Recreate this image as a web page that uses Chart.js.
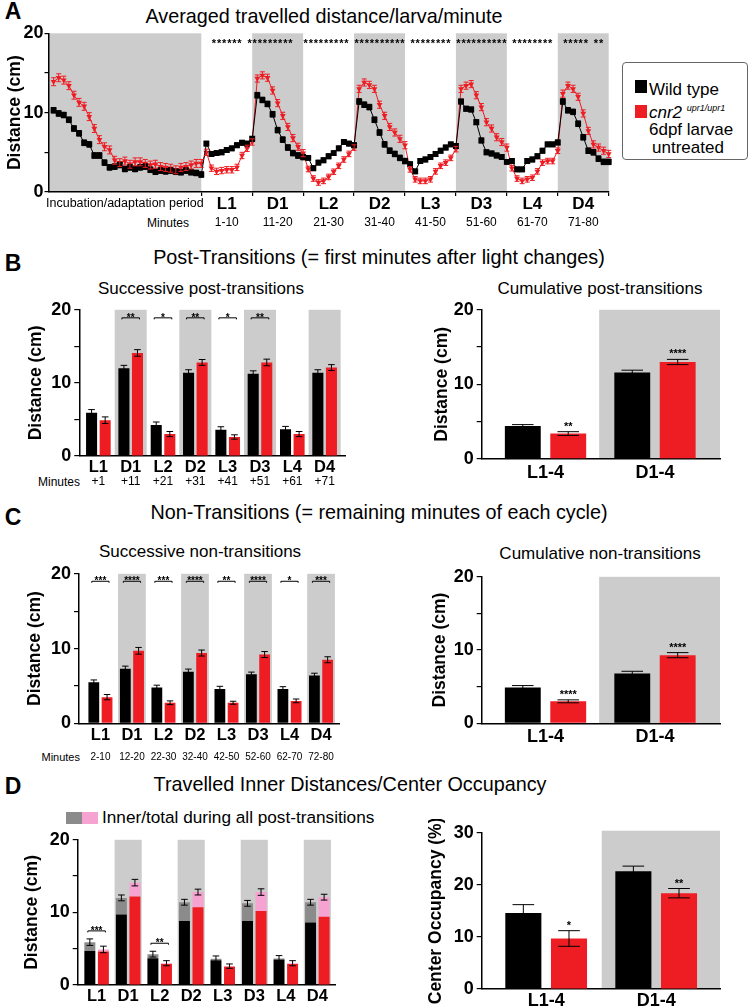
<!DOCTYPE html>
<html lang="en">
<head>
    <meta charset="UTF-8">
    <title>cnr2 larvae locomotion</title>
    <style>
        body {
            margin: 0;
            background: #fff;
            font-family: "Liberation Sans", Arial, Helvetica, sans-serif;
            color: #000;
        }
        #page {
            position: relative;
            width: 750px;
            height: 1006px;
            overflow: hidden;
        }
        .t {
            position: absolute;
            white-space: nowrap;
            transform: translate(-50%, -50%);
            line-height: 1;
        }
        .r { transform: translate(-100%, -50%); }
        .l { transform: translate(0, -50%); }
        .letter { font-weight: bold; font-size: 23px; }
        .title { font-size: 19.8px; }
        .sub { font-size: 17px; }
        canvas { position: absolute; }
        .sq { position: absolute; }
    </style>
</head>
<body>
<div id="page">
    <!-- panel letters and titles -->
    <div class="t letter" style="left:13px;top:11px">A</div>
    <div class="t title" style="left:324px;top:17px">Averaged travelled distance/larva/minute</div>
    <div class="t letter" style="left:13px;top:263px">B</div>
    <div class="t title" style="left:379px;top:258px">Post-Transitions (= first minutes after light changes)</div>
    <div class="t sub" style="left:201px;top:288px">Successive post-transitions</div>
    <div class="t sub" style="left:600px;top:288px">Cumulative post-transitions</div>
    <div class="t letter" style="left:13px;top:517px">C</div>
    <div class="t title" style="left:379px;top:513px">Non-Transitions (= remaining minutes of each cycle)</div>
    <div class="t sub" style="left:200px;top:551px">Successive non-transitions</div>
    <div class="t sub" style="left:600px;top:553px">Cumulative non-transitions</div>
    <div class="t letter" style="left:13px;top:786px">D</div>
    <div class="t title" style="left:350px;top:785px">Travelled Inner Distances/Center Occupancy</div>

    <!-- "Minutes" row captions -->
    <div class="t r" style="left:189px;top:223px;font-size:12px">Minutes</div>
    <div class="t r" style="left:80px;top:482px;font-size:12px">Minutes</div>
    <div class="t r" style="left:80px;top:757px;font-size:11px">Minutes</div>

    <!-- legend of panel A -->
    <div style="position:absolute;left:622px;top:62px;width:126px;height:98px;border:1px solid #666;border-radius:4px;box-sizing:border-box"></div>
    <div class="sq" style="left:635px;top:80px;width:12px;height:13px;background:#000"></div>
    <div class="t l" style="left:649px;top:89px;font-size:17px">Wild type</div>
    <div class="sq" style="left:635px;top:105px;width:12px;height:13px;background:#ee1d23"></div>
    <div class="t l" style="left:649px;top:112px;font-size:17px"><i>cnr2</i> <i style="font-size:9px;position:relative;top:-7px">upr1/upr1</i></div>
    <div class="t l" style="left:649px;top:129px;font-size:17px">6dpf larvae</div>
    <div class="t l" style="left:652px;top:147px;font-size:17px">untreated</div>

    <!-- legend of panel D -->
    <div class="sq" style="left:66px;top:812px;width:16px;height:12px;background:#8b8b8b"></div>
    <div class="sq" style="left:82px;top:812px;width:16px;height:12px;background:#f6a3d2"></div>
    <div class="t l" style="left:102px;top:818px;font-size:17.2px">Inner/total during all post-transitions</div>

    <canvas id="chartA" width="615" height="215" style="left:0;top:20px"></canvas>
    <canvas id="chartB1" width="350" height="200" style="left:0;top:296px"></canvas>
    <canvas id="chartB2" width="370" height="200" style="left:360px;top:296px"></canvas>
    <canvas id="chartC1" width="350" height="200" style="left:0;top:560px"></canvas>
    <canvas id="chartC2" width="370" height="200" style="left:360px;top:563px"></canvas>
    <canvas id="chartD1" width="350" height="180" style="left:0;top:826px"></canvas>
    <canvas id="chartD2" width="370" height="187" style="left:360px;top:819px"></canvas>
</div>

<script src="https://cdn.jsdelivr.net/npm/chart.js@4"></script>
<script>
    // ---------- Panel A: distance per minute ----------
    // x = minute; -29..0 is the incubation/adaptation period, 1..80 are L1..D4
    const minutesA = Array.from({length: 110}, (_, i) => i - 29);
    const segNames = ['L1', 'D1', 'L2', 'D2', 'L3', 'D3', 'L4', 'D4'];
    const segMinutes = ['1-10', '11-20', '21-30', '31-40', '41-50', '51-60', '61-70', '71-80'];

    const wtMinute = [
        10.3, 9.9, 9.7, 9.1, 8.0, 7.4, 6.2, 6.0, 4.6, 4.6,
        3.7, 3.1, 3.2, 3.4, 2.9, 3.1, 2.9, 3.1, 3.2, 2.8,
        2.55, 2.7, 2.6, 2.7, 2.55, 2.5, 2.7, 2.5, 2.4, 2.2,
        6.1, 4.8, 4.9, 5.0, 5.3, 5.5, 5.9, 6.2, 6.1, 6.7,      // L1
        12.2, 11.6, 11.1, 9.8, 7.8, 6.6, 5.6, 4.9, 4.6, 4.4,   // D1
        4.3, 3.0, 3.7, 4.0, 4.5, 4.9, 5.5, 6.3, 6.1, 5.9,      // L2
        11.4, 11.0, 10.7, 9.1, 7.5, 6.0, 5.2, 4.8, 4.3, 3.9,   // D2
        3.5, 2.6, 3.9, 4.1, 4.4, 4.8, 5.2, 5.6, 6.0, 5.8,      // L3
        11.4, 10.5, 10.4, 8.8, 6.5, 5.0, 4.85, 4.6, 4.4, 3.8,  // D3
        3.9, 2.85, 2.85, 3.9, 4.1, 4.5, 5.2, 6.0, 6.0, 6.25,   // L4
        11.4, 10.3, 10.1, 8.6, 6.9, 5.2, 5.0, 4.2, 3.8, 3.8    // D4
    ];
    const mutMinute = [
        13.9, 14.4, 14.1, 13.4, 12.2, 11.3, 10.8, 9.5, 8.0, 6.6,
        5.7, 5.3, 4.0, 3.7, 3.9, 3.5, 3.8, 3.8, 3.6, 3.4,
        3.5, 3.2, 3.1, 3.0, 2.8, 3.1, 3.2, 3.4, 3.6, 3.6,
        5.0, 3.0, 2.6, 2.7, 2.8, 2.8, 3.1, 4.6, 5.5, 6.3,      // L1
        14.3, 14.7, 14.4, 12.8, 11.2, 9.6, 8.2, 6.8, 5.7, 4.9, // D1
        2.9, 1.7, 1.2, 1.4, 1.9, 2.55, 3.3, 4.1, 4.8, 5.6,     // L2
        13.0, 13.8, 13.5, 13.0, 11.0, 9.6, 8.2, 7.5, 6.7, 5.9, // D2
        2.85, 1.6, 1.4, 1.4, 1.6, 2.6, 3.3, 3.7, 4.3, 5.4,     // L3
        13.0, 13.4, 13.6, 12.2, 10.7, 8.8, 8.0, 6.9, 6.3, 5.6, // D3
        3.0, 1.7, 1.4, 1.6, 1.8, 2.6, 3.7, 3.9, 3.9, 5.2,      // L4
        12.4, 13.4, 13.0, 12.0, 9.9, 7.7, 6.0, 5.6, 5.2, 4.8   // D4
    ];
    // SEM per block: incubation, L1, D1, ... D4
    const wtBlockErr = [0.35, 0.3, 0.35, 0.3, 0.35, 0.3, 0.3, 0.3, 0.35];
    const mutBlockErr = [0.5, 0.4, 0.45, 0.35, 0.45, 0.35, 0.45, 0.35, 0.45];
    // minutes with a significant difference (one star each)
    const sigMinutesA = [3, 4, 5, 6, 7, 8,
        10, 11, 12, 13, 14, 15, 16, 17, 18,
        21, 22, 23, 24, 25, 26, 27, 28, 29,
        31, 32, 33, 34, 35, 36, 37, 38, 39, 40,
        42, 43, 44, 45, 46, 47, 48, 49,
        51, 52, 53, 54, 55, 56, 57, 58, 59, 60,
        62, 63, 64, 65, 66, 67, 68, 69,
        72, 73, 74, 75, 76, 78, 79];

    // ---------- Panel B: post-transitions ----------
    const cycles = ['L1', 'D1', 'L2', 'D2', 'L3', 'D3', 'L4', 'D4'];
    const postMinutes = ['+1', '+11', '+21', '+31', '+41', '+51', '+61', '+71'];
    const postWt = [5.9, 12.0, 4.25, 11.4, 3.6, 11.25, 3.65, 11.4];
    const postMut = [4.9, 14.1, 3.0, 12.8, 2.6, 12.8, 3.0, 12.1];
    const postWtErr = [0.45, 0.4, 0.4, 0.4, 0.4, 0.4, 0.4, 0.4];
    const postMutErr = [0.45, 0.45, 0.35, 0.4, 0.3, 0.45, 0.35, 0.4];
    const postSig = ['', '**', '*', '**', '*', '**', '', ''];

    const cumCats = ['L1-4', 'D1-4'];
    const cumPostWt = [4.4, 11.6];
    const cumPostMut = [3.4, 13.0];
    const cumPostWtErr = [0.2, 0.3];
    const cumPostMutErr = [0.25, 0.35];
    const cumPostSig = ['**', '****'];

    // ---------- Panel C: non-transitions ----------
    const nonMinutes = ['2-10', '12-20', '22-30', '32-40', '42-50', '52-60', '62-70', '72-80'];
    const nonWt = [5.5, 7.3, 4.8, 6.9, 4.6, 6.55, 4.6, 6.4];
    const nonMut = [3.5, 9.7, 2.75, 9.4, 2.75, 9.2, 3.0, 8.5];
    const nonWtErr = [0.3, 0.35, 0.3, 0.35, 0.35, 0.3, 0.3, 0.3];
    const nonMutErr = [0.35, 0.45, 0.25, 0.4, 0.2, 0.4, 0.25, 0.4];
    const nonSig = ['***', '****', '***', '****', '**', '****', '*', '***'];

    const cumNonWt = [4.9, 6.8];
    const cumNonMut = [3.0, 9.3];
    const cumNonWtErr = [0.25, 0.3];
    const cumNonMutErr = [0.2, 0.35];
    const cumNonSig = ['****', '****'];

    // ---------- Panel D: inner distance / center occupancy ----------
    const innerWt = [4.7, 9.7, 3.7, 8.8, 3.4, 8.8, 3.5, 8.6];
    const innerMut = [4.6, 12.2, 2.9, 10.7, 2.5, 10.2, 2.9, 9.4];
    const innerSig = ['***', '', '**', '', '', '', '', ''];

    const centerWt = [14.6, 22.6];
    const centerMut = [9.7, 18.4];
    const centerWtErr = [1.6, 1.0];
    const centerMutErr = [1.5, 0.9];
    const centerSig = ['*', '**'];

    // ---------- styling ----------
    const FONT = "'Liberation Sans', Arial, Helvetica, sans-serif";
    const RED = '#ee1d23';
    const BAND = '#cccccc';
    const GREY = '#8b8b8b';
    const PINK = '#f6a3d2';

    Chart.defaults.font.family = FONT;
    Chart.defaults.color = '#000';
    Chart.defaults.animation = false;
    Chart.defaults.plugins.legend.display = false;
    Chart.defaults.plugins.tooltip.enabled = false;

    // grey background blocks for the dark periods, [x0, x1, y0, y1] in data units
    const bandPlugin = {
        id: 'bands',
        beforeDraw(chart, args, opts) {
            if (!opts.list) return;
            const {ctx, scales: {x, y}} = chart;
            ctx.save();
            ctx.fillStyle = BAND;
            opts.list.forEach(b => {
                const x0 = x.getPixelForValue(b[0]), x1 = x.getPixelForValue(b[1]);
                const y0 = y.getPixelForValue(b[2]), y1 = y.getPixelForValue(b[3]);
                ctx.fillRect(x0, y1, x1 - x0, y0 - y1);
            });
            ctx.restore();
        }
    };

    function errPx(chart, e) {
        const y = chart.scales.y;
        return y.getPixelForValue(0) - y.getPixelForValue(e);
    }

    // SEM bars read from dataset.errs
    const errorBarPlugin = {
        id: 'errbars',
        afterDatasetsDraw(chart) {
            const ctx = chart.ctx;
            chart.data.datasets.forEach((ds, i) => {
                if (!ds.errs) return;
                const meta = chart.getDatasetMeta(i);
                ctx.save();
                ctx.strokeStyle = ds.errColor || '#000';
                ctx.lineWidth = 1;
                meta.data.forEach((el, j) => {
                    const d = errPx(chart, ds.errs[j]);
                    const cap = ds.capHalf != null ? ds.capHalf : el.width * 0.3;
                    const top = el.y - d, bot = el.y + d;
                    ctx.beginPath();
                    ctx.moveTo(el.x, top); ctx.lineTo(el.x, bot);
                    ctx.moveTo(el.x - cap, top); ctx.lineTo(el.x + cap, top);
                    ctx.moveTo(el.x - cap, bot); ctx.lineTo(el.x + cap, bot);
                    ctx.stroke();
                });
                ctx.restore();
            });
        }
    };

    function errTop(chart, dsIndex, j) {
        const ds = chart.data.datasets[dsIndex];
        const el = chart.getDatasetMeta(dsIndex).data[j];
        return el.y - (ds.errs ? errPx(chart, ds.errs[j]) : 0);
    }

    // significance stars: per minute (A), brackets between pairs, or above one bar
    const sigPlugin = {
        id: 'sig',
        afterDatasetsDraw(chart, args, opts) {
            const {ctx, scales: {x, y}} = chart;
            ctx.save();
            ctx.fillStyle = '#000';
            ctx.strokeStyle = '#000';
            ctx.lineWidth = 1;
            ctx.textAlign = 'center';
            ctx.textBaseline = 'alphabetic';
            if (opts.minuteStars) {
                ctx.font = 'bold 11px ' + FONT;
                const yy = y.getPixelForValue(opts.minuteStars.at) + 6;
                opts.minuteStars.minutes.forEach(m => ctx.fillText('*', x.getPixelForValue(m - 0.5), yy));
            }
            if (opts.brackets) {
                const b = opts.brackets;
                ctx.font = 'bold 10px ' + FONT;
                b.labels.forEach((s, j) => {
                    if (!s) return;
                    const ea = chart.getDatasetMeta(b.pair[0]).data[j];
                    const eb = chart.getDatasetMeta(b.pair[1]).data[j];
                    const yy = b.at != null ? y.getPixelForValue(b.at)
                        : Math.min(errTop(chart, b.pair[0], j), errTop(chart, b.pair[1], j)) - b.gap;
                    ctx.beginPath();
                    ctx.moveTo(ea.x - 2, yy + 1.5); ctx.lineTo(ea.x - 2, yy);
                    ctx.lineTo(eb.x + 2, yy); ctx.lineTo(eb.x + 2, yy + 1.5);
                    ctx.stroke();
                    ctx.fillText(s, (ea.x + eb.x) / 2, yy + 3);
                });
            }
            if (opts.above) {
                const a = opts.above;
                ctx.font = 'bold 11px ' + FONT;
                a.labels.forEach((s, j) => {
                    if (!s) return;
                    const el = chart.getDatasetMeta(a.ds).data[j];
                    ctx.fillText(s, el.x, errTop(chart, a.ds, j) - a.gap + 6);
                });
            }
            ctx.restore();
        }
    };

    // extra text rows under the x axis, positioned on x data values
    const rowsPlugin = {
        id: 'rows',
        afterDraw(chart, args, opts) {
            if (!opts.items) return;
            const {ctx, chartArea, scales: {x}} = chart;
            ctx.save();
            ctx.fillStyle = '#000';
            ctx.textAlign = 'center';
            ctx.textBaseline = 'middle';
            opts.items.forEach(it => {
                ctx.font = it.font;
                ctx.fillText(it.text, x.getPixelForValue(it.x), chartArea.bottom + it.dy);
            });
            ctx.restore();
        }
    };

    Chart.register(bandPlugin, errorBarPlugin, sigPlugin, rowsPlugin);

    function yAxis(max, step, labelEvery, width, title, titlePad, tickLen, tickPad) {
        return {
            type: 'linear',
            min: 0,
            max: max,
            afterBuildTicks: s => {
                s.ticks = [];
                for (let v = 0; v <= max; v += step) s.ticks.push({value: v});
            },
            afterFit: s => { s.width = width; },
            ticks: {
                callback: v => (v % labelEvery === 0 ? v : ''),
                font: {size: 18, weight: 'bold'},
                padding: tickPad,
                color: '#000'
            },
            grid: {drawOnChartArea: false, drawTicks: true, tickLength: tickLen, color: '#000', lineWidth: 1.2},
            border: {display: true, color: '#000', width: 1.5},
            title: {
                display: true,
                text: title,
                font: {size: 17.5, weight: 'bold'},
                padding: {top: titlePad, bottom: 0},
                color: '#000'
            }
        };
    }

    function catAxis(labels, min, max, height, fontSize, pad, stacked) {
        return {
            type: 'linear',
            min: min,
            max: max,
            offset: false,
            stacked: !!stacked,
            afterBuildTicks: s => { s.ticks = labels.map((_, i) => ({value: i})); },
            afterFit: s => { s.height = height; },
            ticks: {
                callback: v => (labels[v] !== undefined ? labels[v] : ''),
                font: {size: fontSize, weight: 'bold'},
                padding: pad,
                autoSkip: false,
                maxRotation: 0,
                color: '#000'
            },
            grid: {display: false, drawTicks: false, offset: false},
            border: {display: true, color: '#000', width: 1.5}
        };
    }

    function pts(values, xs) {
        return values.map((v, i) => ({x: xs ? xs[i] : i, y: v}));
    }

    function darkBands(labels, half, top) {
        const list = [];
        labels.forEach((c, i) => { if (c.charAt(0) === 'D') list.push([i - half, i + half, 0, top]); });
        return list;
    }

    // ---------- A ----------
    const blockOf = i => (i < 30 ? 0 : 1 + Math.floor((i - 30) / 10));
    const bandsA = [[-30, 0, 0, 20]];
    segNames.forEach((n, i) => { if (n.charAt(0) === 'D') bandsA.push([i * 10, i * 10 + 10, 0, 20]); });
    const rowsA = [{text: 'Incubation/adaptation period', x: -15, dy: 12, font: '12.5px ' + FONT}];
    segNames.forEach((n, i) => rowsA.push({text: n, x: i * 10 + 5, dy: 12, font: 'bold 17px ' + FONT}));
    segMinutes.forEach((m, i) => rowsA.push({text: m, x: i * 10 + 5, dy: 31, font: '12px ' + FONT}));

    new Chart(document.getElementById('chartA'), {
        type: 'line',
        data: {
            datasets: [{
                data: pts(wtMinute, minutesA),
                borderColor: '#000',
                borderWidth: 1,
                pointStyle: 'rect',
                pointRadius: 4.2,
                pointBackgroundColor: '#000',
                pointBorderWidth: 0,
                errs: wtMinute.map((_, i) => wtBlockErr[blockOf(i)]),
                errColor: '#000',
                capHalf: 2.5,
                clip: 10
            }, {
                data: pts(mutMinute, minutesA),
                borderColor: RED,
                borderWidth: 1,
                pointStyle: 'triangle',
                pointRotation: 180,
                pointRadius: 3.4,
                pointBackgroundColor: RED,
                pointBorderWidth: 0,
                errs: mutMinute.map((_, i) => mutBlockErr[blockOf(i)]),
                errColor: RED,
                capHalf: 2.5,
                clip: 10
            }]
        },
        options: {
            responsive: false,
            layout: {padding: {top: 13.3, right: 6.3, left: 0, bottom: 0}},
            scales: {
                x: {
                    type: 'linear',
                    min: -30,
                    max: 80,
                    afterBuildTicks: s => { s.ticks = [0, 10, 20, 30, 40, 50, 60, 70, 80].map(v => ({value: v})); },
                    afterFit: s => { s.height = 43; },
                    ticks: {callback: () => ''},
                    grid: {drawOnChartArea: false, drawTicks: true, tickLength: 4, color: '#000', lineWidth: 1.2},
                    border: {display: true, color: '#000', width: 1.5}
                },
                y: yAxis(20, 5, 10, 48.5, 'Distance (cm)', 4.5, 4, 1)
            },
            plugins: {
                bands: {list: bandsA},
                sig: {minuteStars: {minutes: sigMinutesA, at: 19}},
                rows: {items: rowsA}
            }
        }
    });

    // ---------- bar chart helper ----------
    function pairBars(id, opt) {
        new Chart(document.getElementById(id), {
            type: 'bar',
            data: {
                datasets: [{
                    data: pts(opt.wt), backgroundColor: '#000', borderWidth: 0,
                    errs: opt.wtErr,
                    categoryPercentage: opt.catPct, barPercentage: opt.barPct
                }, {
                    data: pts(opt.mut), backgroundColor: RED, borderWidth: 0,
                    errs: opt.mutErr,
                    categoryPercentage: opt.catPct, barPercentage: opt.barPct
                }]
            },
            options: {
                responsive: false,
                layout: {padding: opt.pad},
                scales: {
                    x: catAxis(opt.labels, opt.xmin, opt.xmax, opt.xh, opt.labelSize, opt.labelPad),
                    y: yAxis(opt.ymax, opt.ystep, 10, opt.yw, opt.ytitle, opt.titlePad, 5, 3)
                },
                plugins: {
                    bands: {list: opt.bands},
                    sig: opt.sig,
                    rows: {items: opt.rows || null}
                }
            }
        });
    }

    // ---------- B ----------
    pairBars('chartB1', {
        labels: cycles, wt: postWt, mut: postMut, wtErr: postWtErr, mutErr: postMutErr,
        catPct: 0.84, barPct: 0.815, xmin: -0.59, xmax: 7.63, xh: 40, labelSize: 16.5, labelPad: 2,
        ymax: 20, ystep: 5, yw: 79.3, ytitle: 'Distance (cm)', titlePad: 25.5,
        pad: {top: 10.7, right: 5, left: 0, bottom: 0},
        bands: darkBands(cycles, 0.495, 20),
        sig: {brackets: {labels: postSig, pair: [0, 1], at: 18.9}},
        rows: postMinutes.map((m, i) => ({text: m, x: i, dy: 26, font: '12px ' + FONT}))
    });
    pairBars('chartB2', {
        labels: cumCats, wt: cumPostWt, mut: cumPostMut, wtErr: cumPostWtErr, mutErr: cumPostMutErr,
        catPct: 0.83, barPct: 0.79, xmin: -0.583, xmax: 1.594, xh: 37.1, labelSize: 18, labelPad: 3,
        ymax: 20, ystep: 5, yw: 121.7, ytitle: 'Distance (cm)', titlePad: 72,
        pad: {top: 11.7, right: 10, left: 0, bottom: 0},
        bands: [[0.49, 1.594, 0, 20]],
        sig: {above: {labels: cumPostSig, ds: 1, gap: 8}}
    });

    // ---------- C ----------
    pairBars('chartC1', {
        labels: cycles, wt: nonWt, mut: nonMut, wtErr: nonWtErr, mutErr: nonMutErr,
        catPct: 0.84, barPct: 0.815, xmin: -0.68, xmax: 7.57, xh: 36.7, labelSize: 16.5, labelPad: 2,
        ymax: 20, ystep: 5, yw: 79, ytitle: 'Distance (cm)', titlePad: 24.5,
        pad: {top: 11, right: 11, left: 0, bottom: 0},
        bands: darkBands(cycles, 0.44, 20),
        sig: {brackets: {labels: nonSig, pair: [0, 1], at: 19}},
        rows: nonMinutes.map((m, i) => ({text: m, x: i, dy: 34, font: '10px ' + FONT}))
    });
    pairBars('chartC2', {
        labels: cumCats, wt: cumNonWt, mut: cumNonMut, wtErr: cumNonWtErr, mutErr: cumNonMutErr,
        catPct: 0.83, barPct: 0.79, xmin: -0.583, xmax: 1.594, xh: 39.7, labelSize: 18, labelPad: 3,
        ymax: 20, ystep: 5, yw: 121.7, ytitle: 'Distance (cm)', titlePad: 69.5,
        pad: {top: 11, right: 10, left: 0, bottom: 0},
        bands: [[0.49, 1.594, 0, 20]],
        sig: {above: {labels: cumNonSig, ds: 1, gap: 8}}
    });

    // ---------- D left: stacked inner / total ----------
    new Chart(document.getElementById('chartD1'), {
        type: 'bar',
        data: {
            datasets: [{
                data: pts(innerWt), backgroundColor: '#000', stack: 'wt'
            }, {
                data: pts(postWt.map((v, i) => v - innerWt[i])), backgroundColor: GREY, stack: 'wt',
                errs: postWtErr
            }, {
                data: pts(innerMut), backgroundColor: RED, stack: 'mut'
            }, {
                data: pts(postMut.map((v, i) => v - innerMut[i])), backgroundColor: PINK, stack: 'mut',
                errs: postMutErr
            }]
        },
        options: {
            responsive: false,
            layout: {padding: {top: 11.7, right: 15, left: 0, bottom: 0}},
            datasets: {bar: {categoryPercentage: 0.86, barPercentage: 0.81, borderWidth: 0}},
            scales: {
                x: catAxis(cycles, -0.6, 7.56, 21, 16.5, 2, true),
                y: Object.assign(yAxis(20, 5, 10, 77.7, 'Distance (cm)', 22, 5, 3), {stacked: true})
            },
            plugins: {
                bands: {list: darkBands(cycles, 0.43, 20)},
                sig: {brackets: {labels: innerSig, pair: [1, 3], gap: 8}}
            }
        }
    });

    // ---------- D right: center occupancy ----------
    pairBars('chartD2', {
        labels: cumCats, wt: centerWt, mut: centerMut, wtErr: centerWtErr, mutErr: centerMutErr,
        catPct: 0.83, barPct: 0.79, xmin: -0.586, xmax: 1.58, xh: 17, labelSize: 18, labelPad: 1,
        ymax: 30, ystep: 10, yw: 121.7, ytitle: 'Center Occupancy (%)', titlePad: 66,
        pad: {top: 11, right: 10, left: 0, bottom: 0},
        bands: [[0.505, 1.58, 0, 30.4]],
        sig: {above: {labels: centerSig, ds: 1, gap: 8}}
    });
</script>
</body>
</html>
